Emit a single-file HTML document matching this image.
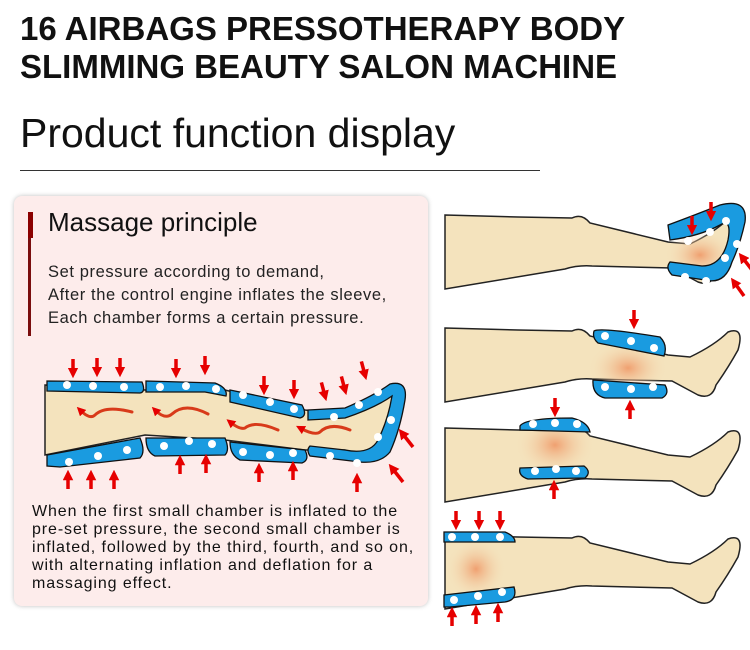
<!DOCTYPE html>
<html><head><meta charset="utf-8"><style>
body{margin:0;width:750px;height:650px;background:#fff;position:relative;overflow:hidden;font-family:"Liberation Sans",sans-serif}
.t{position:absolute;left:20px;top:10px;font-weight:bold;font-size:33px;line-height:38px;color:#111}
.s{position:absolute;left:20px;top:110px;font-size:41px;color:#111}
.hr{position:absolute;left:20px;top:170px;width:520px;height:1px;background:#333}
.box{position:absolute;left:14px;top:196px;width:414px;height:410px;background:#fdeceb;border-radius:8px;box-shadow:0 0 5px rgba(0,0,0,.25)}
.bar{position:absolute;left:28px;top:212px;width:3px;height:124px;background:#7a0d0d}
.bar2{position:absolute;left:28px;top:212px;width:5px;height:26px;background:#8b0000}
.h{position:absolute;left:48px;top:207px;font-size:26px;color:#111}
.p{position:absolute;left:48px;top:261px;font-size:16.5px;line-height:23px;color:#222;letter-spacing:0.6px;white-space:nowrap}
.q{position:absolute;left:32px;top:503px;font-size:16px;line-height:18px;color:#111;letter-spacing:0.9px;white-space:nowrap}
</style></head><body>
<div class="t">16 AIRBAGS PRESSOTHERAPY BODY<br>SLIMMING BEAUTY SALON MACHINE</div>
<div class="s">Product function display</div>
<div class="hr"></div>
<div class="box"></div>
<div class="bar"></div><div class="bar2"></div>
<div class="h">Massage principle</div>
<div class="p">Set pressure according to demand,<br>After the control engine inflates the sleeve,<br>Each chamber forms a certain pressure.</div>
<div class="q">When the first small chamber is inflated to the<br>pre-set pressure, the second small chamber is<br>inflated, followed by the third, fourth, and so on,<br>with alternating inflation and deflation for a<br>massaging effect.</div>
<svg width="750" height="650" style="position:absolute;left:0;top:0">
<defs>
<marker id="ah" viewBox="0 0 10 10" refX="5" refY="5" markerWidth="3" markerHeight="3" orient="auto"><path d="M0,0L10,5L0,10z" fill="#e60000"/></marker>
<path id="leg" d="M445,328 L518,330 L572,331 Q582,326 590,336 L668,355 L690,357 Q715,345 728,332 Q745,326 738,350 Q728,368 716,385 Q712,400 698,395 L672,381 L592,379 Q578,378 565,382 L445,402 Z" fill="#f4e3bd" stroke="#222" stroke-width="1.5"/>
<radialGradient id="hot"><stop offset="0" stop-color="#f0a070"/><stop offset="1" stop-color="#f4e3bd" stop-opacity="0"/></radialGradient>
<g id="dn"><line x1="0" y1="-14" x2="0" y2="0" stroke="#e60000" stroke-width="3.5" marker-end="url(#ah)"/></g>
</defs>
<path d="M45,385 L145,390 L225,390 L305,410 L345,415 Q375,400 390,392 Q398,388 396,405 Q392,430 385,445 Q378,458 362,455 L345,450 L305,450 L225,440 L145,435 L45,455 Z" fill="#f4e3bd" stroke="#222" stroke-width="1.5"/>
<g fill="#1a9be0" stroke="#111" stroke-width="1.3">
<path d="M47,381 L142,382 Q146,392 140,393 L47,391 Z"/>
<path d="M146,381 L215,383 Q228,388 226,396 L205,392 L146,392 Z"/>
<path d="M230,390 L302,405 Q308,416 300,418 L230,402 Z"/>
<path d="M308,410 L345,408 Q375,395 390,384 Q408,380 405,400 Q400,430 390,452 Q380,464 360,462 L310,456 Q306,450 310,446 L345,450 Q370,455 378,440 Q388,420 392,396 Q375,408 345,418 L308,420 Z"/>
<path d="M47,455 L140,438 Q146,452 140,458 L60,467 L47,466 Z"/>
<path d="M146,438 L225,438 Q230,450 225,455 L155,456 Q146,452 146,438 Z"/>
<path d="M230,442 L305,450 Q310,460 302,463 L240,460 Q230,455 230,442 Z"/>
</g>
<g fill="#fff">
<circle cx="67" cy="385" r="4"/><circle cx="93" cy="386" r="4"/><circle cx="124" cy="387" r="4"/>
<circle cx="160" cy="387" r="4"/><circle cx="186" cy="386" r="4"/><circle cx="216" cy="389" r="4"/>
<circle cx="243" cy="395" r="4"/><circle cx="270" cy="402" r="4"/><circle cx="294" cy="409" r="4"/>
<circle cx="334" cy="417" r="4"/><circle cx="359" cy="405" r="4"/><circle cx="378" cy="392" r="4"/><circle cx="391" cy="420" r="4"/><circle cx="378" cy="437" r="4"/><circle cx="357" cy="463" r="4"/>
<circle cx="69" cy="462" r="4"/><circle cx="98" cy="456" r="4"/><circle cx="127" cy="450" r="4"/>
<circle cx="164" cy="446" r="4"/><circle cx="189" cy="441" r="4"/><circle cx="212" cy="444" r="4"/>
<circle cx="243" cy="452" r="4"/><circle cx="270" cy="455" r="4"/><circle cx="293" cy="453" r="4"/><circle cx="330" cy="456" r="4"/>
</g>
<g fill="none" stroke="#d83a1a" stroke-width="3" stroke-linecap="round">
<path d="M132,412 Q105,405 95,415 Q90,420 80,410" marker-end="url(#ah)"/>
<path d="M208,414 Q185,402 172,414 Q165,420 155,410" marker-end="url(#ah)"/>
<path d="M278,430 Q255,420 245,428 Q240,430 230,422" marker-end="url(#ah)"/>
<path d="M350,430 Q330,422 320,432 Q315,436 300,428" marker-end="url(#ah)"/>
</g>
<g>
<use href="#dn" x="73" y="373"/><use href="#dn" x="97" y="372"/><use href="#dn" x="120" y="372"/>
<use href="#dn" x="176" y="373"/><use href="#dn" x="205" y="370"/>
<use href="#dn" x="264" y="390"/><use href="#dn" x="294" y="394"/>
<use href="#dn" x="325" y="396" transform="rotate(-15 325 396)"/><use href="#dn" x="345" y="390" transform="rotate(-15 345 390)"/><use href="#dn" x="365" y="375" transform="rotate(-15 365 375)"/>
<use href="#dn" x="68" y="475" transform="rotate(180 68 475)"/><use href="#dn" x="91" y="475" transform="rotate(180 91 475)"/><use href="#dn" x="114" y="475" transform="rotate(180 114 475)"/>
<use href="#dn" x="180" y="460" transform="rotate(180 180 460)"/><use href="#dn" x="206" y="459" transform="rotate(180 206 459)"/>
<use href="#dn" x="259" y="468" transform="rotate(180 259 468)"/><use href="#dn" x="293" y="466" transform="rotate(180 293 466)"/>
<use href="#dn" x="357" y="478" transform="rotate(180 357 478)"/>
<line x1="403" y1="482" x2="392" y2="468" stroke="#e60000" stroke-width="3.5" marker-end="url(#ah)"/>
<line x1="413" y1="447" x2="402" y2="433" stroke="#e60000" stroke-width="3.5" marker-end="url(#ah)"/>
</g>
<use href="#leg" y="-113"/>
<use href="#leg"/>
<use href="#leg" y="100"/>
<use href="#leg" y="207"/>
<ellipse cx="700" cy="255" rx="35" ry="25" fill="url(#hot)"/>
<path d="M668,225 Q695,215 720,205 Q748,198 745,222 Q740,245 732,262 Q725,285 705,280 L672,275 Q665,268 670,262 L702,266 Q722,266 728,240 Q732,218 720,225 Q700,236 670,240 Z" fill="#1a9be0" stroke="#111" stroke-width="1.3"/>
<g fill="#fff"><circle cx="688" cy="241" r="4"/><circle cx="710" cy="232" r="4"/><circle cx="726" cy="221" r="4"/><circle cx="737" cy="244" r="4"/><circle cx="725" cy="258" r="4"/><circle cx="706" cy="281" r="4"/><circle cx="685" cy="277" r="4"/></g>
<use href="#dn" x="692" y="230"/><use href="#dn" x="711" y="216"/>
<line x1="752" y1="270" x2="742" y2="257" stroke="#e60000" stroke-width="3.5" marker-end="url(#ah)"/>
<line x1="744" y1="296" x2="734" y2="282" stroke="#e60000" stroke-width="3.5" marker-end="url(#ah)"/>
<ellipse cx="628" cy="368" rx="40" ry="28" fill="url(#hot)"/>
<path d="M594,331 Q600,327 660,337 Q668,345 664,356 L598,343 Q592,338 594,331 Z" fill="#1a9be0" stroke="#111" stroke-width="1.3"/>
<path d="M593,380 L665,385 Q670,394 662,398 L605,398 Q592,395 593,380 Z" fill="#1a9be0" stroke="#111" stroke-width="1.3"/>
<g fill="#fff"><circle cx="605" cy="336" r="4"/><circle cx="631" cy="341" r="4"/><circle cx="654" cy="348" r="4"/><circle cx="605" cy="387" r="4"/><circle cx="631" cy="389" r="4"/><circle cx="653" cy="387" r="4"/></g>
<use href="#dn" x="634" y="324"/><use href="#dn" x="630" y="405" transform="rotate(180 630 405)"/>
<ellipse cx="555" cy="445" rx="40" ry="32" fill="url(#hot)"/>
<path d="M520,426 Q525,418 572,418 Q588,422 590,432 L520,430 Z" fill="#1a9be0" stroke="#111" stroke-width="1.3"/>
<path d="M520,468 L584,466 Q592,472 585,478 L528,479 Q518,476 520,468 Z" fill="#1a9be0" stroke="#111" stroke-width="1.3"/>
<g fill="#fff"><circle cx="533" cy="424" r="4"/><circle cx="555" cy="423" r="4"/><circle cx="577" cy="424" r="4"/><circle cx="535" cy="471" r="4"/><circle cx="556" cy="469" r="4"/><circle cx="576" cy="471" r="4"/></g>
<use href="#dn" x="555" y="412"/><use href="#dn" x="554" y="485" transform="rotate(180 554 485)"/>
<rect x="446" y="538" width="60" height="62" fill="url(#hot)"/>
<path d="M444,532 L505,532 Q515,536 515,542 L444,542 Z" fill="#1a9be0" stroke="#111" stroke-width="1.3"/>
<path d="M444,595 L514,587 Q518,600 505,602 L450,607 L444,607 Z" fill="#1a9be0" stroke="#111" stroke-width="1.3"/>
<g fill="#fff"><circle cx="452" cy="537" r="4"/><circle cx="475" cy="537" r="4"/><circle cx="500" cy="537" r="4"/><circle cx="454" cy="600" r="4"/><circle cx="478" cy="596" r="4"/><circle cx="502" cy="592" r="4"/></g>
<use href="#dn" x="456" y="525"/><use href="#dn" x="479" y="525"/><use href="#dn" x="500" y="525"/>
<use href="#dn" x="452" y="612" transform="rotate(180 452 612)"/><use href="#dn" x="476" y="610" transform="rotate(180 476 610)"/><use href="#dn" x="498" y="608" transform="rotate(180 498 608)"/>
</svg>
</body></html>
